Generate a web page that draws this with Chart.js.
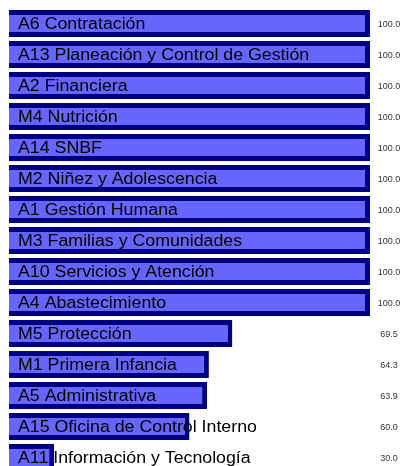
<!DOCTYPE html>
<html>
<head>
<meta charset="utf-8">
<script src="https://cdn.jsdelivr.net/npm/chart.js@4"></script>
<style>
html,body{margin:0;padding:0;background:#fff;overflow:hidden;}
#wrap{width:403px;height:480px;position:relative;}
</style>
</head>
<body>
<div id="wrap"><canvas id="c" width="403" height="480"></canvas></div>
<script>
const categories = [
  "A6 Contratación",
  "A13 Planeación y Control de Gestión",
  "A2 Financiera",
  "M4 Nutrición",
  "A14 SNBF",
  "M2 Niñez y Adolescencia",
  "A1 Gestión Humana",
  "M3 Familias y Comunidades",
  "A10 Servicios y Atención",
  "A4 Abastecimiento",
  "M5 Protección",
  "M1 Primera Infancia",
  "A5 Administrativa",
  "A15 Oficina de Control Interno",
  "A11 Información y Tecnología"
];
const values = [100.0, 100.0, 100.0, 100.0, 100.0, 100.0, 100.0, 100.0, 100.0, 100.0, 69.5, 64.3, 63.9, 60.0, 30.0];
const axisMin = 20;
const axisMax = 100;

const labelPlugin = {
  id: 'barLabels',
  afterDatasetsDraw(chart) {
    const ctx = chart.ctx;
    const meta = chart.getDatasetMeta(0);
    const area = chart.chartArea;
    meta.data.forEach((bar, i) => {
      ctx.save();
      ctx.textBaseline = 'middle';
      ctx.textAlign = 'left';
      ctx.fillStyle = '#000';
      ctx.font = '16px "Liberation Sans", Arial, sans-serif';
      ctx.translate(area.left + 9, bar.y + 1);
      ctx.scale(1.11, 1);
      ctx.fillText(categories[i], 0, 0);
      ctx.restore();
      ctx.save();
      ctx.textBaseline = 'middle';
      ctx.textAlign = 'center';
      ctx.fillStyle = '#333';
      ctx.font = '9px "Liberation Sans", Arial, sans-serif';
      ctx.fillText(values[i].toFixed(1), area.right + 19, bar.y + 1);
      ctx.restore();
    });
  }
};

new Chart(document.getElementById('c'), {
  type: 'bar',
  data: {
    labels: categories,
    datasets: [{
      data: values,
      backgroundColor: '#6666ff',
      borderColor: '#000080',
      borderWidth: 5,
      borderSkipped: false,
      categoryPercentage: 1.0,
      barPercentage: 0.871
    }]
  },
  options: {
    indexAxis: 'y',
    responsive: false,
    animation: false,
    layout: { padding: { left: 9, right: 33, top: 8, bottom: 7 } },
    plugins: { legend: { display: false }, tooltip: { enabled: false } },
    scales: {
      x: { display: false, min: axisMin, max: axisMax },
      y: { display: false }
    }
  },
  plugins: [labelPlugin]
});
</script>
</body>
</html>
